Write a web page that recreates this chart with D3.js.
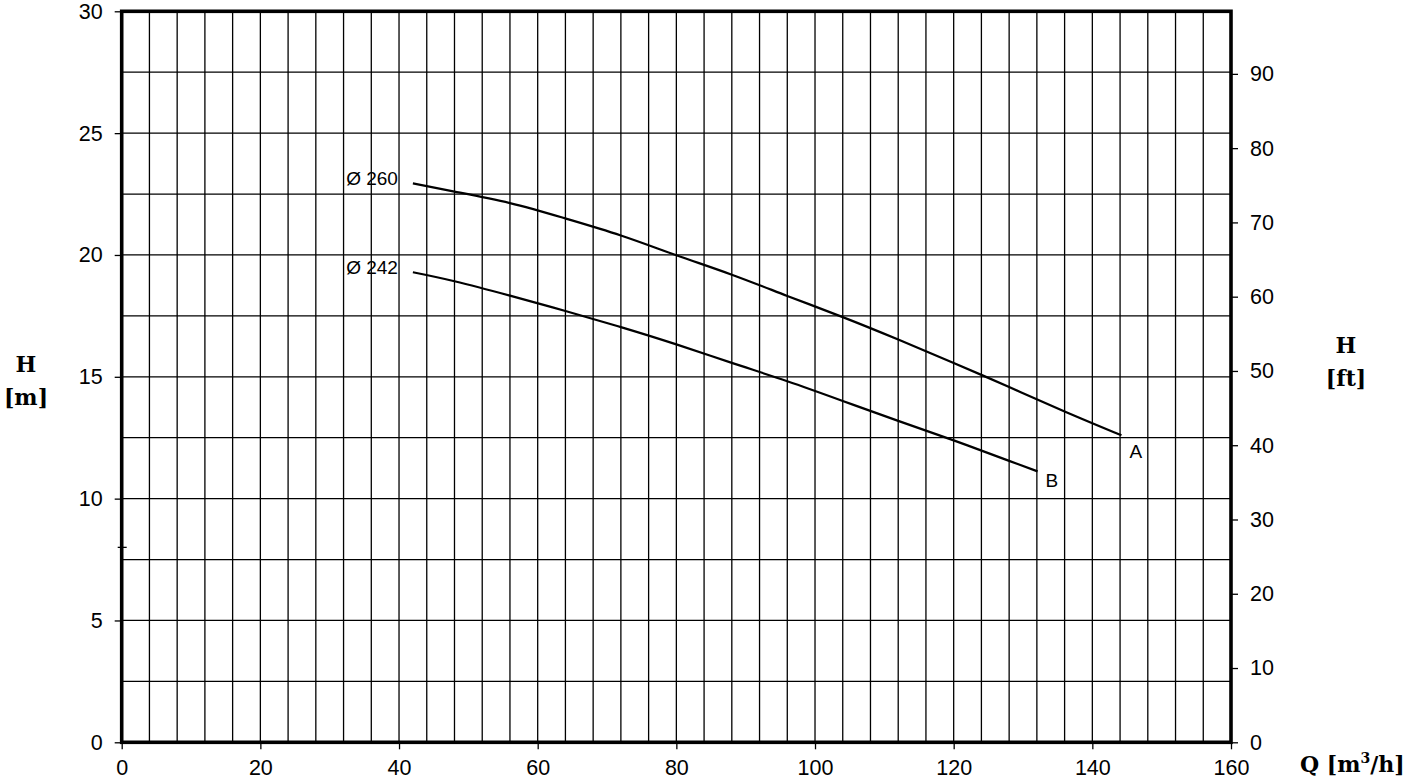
<!DOCTYPE html>
<html>
<head>
<meta charset="utf-8">
<script src="https://cdn.jsdelivr.net/npm/d3@7"></script>
<style>
  body { margin: 0; background: #fff; }
  svg { display: block; }
  .tick text { font-family: "Liberation Sans", Arial, sans-serif; }
</style>
</head>
<body>
<div id="chart"></div>
<script>
// pump curves, Q in m3/h, H in m
var qA = [42.0, 48, 56, 64, 72, 80, 88, 96, 104, 112, 120, 128, 136, 144.2];
var hA = [22.94, 22.6, 22.13, 21.5, 20.8, 19.99, 19.19, 18.32, 17.45, 16.53, 15.57, 14.58, 13.58, 12.6];
var qB = [42.0, 48, 56, 64, 72, 80, 88, 96, 104, 112, 120, 128, 132.1];
var hB = [19.29, 18.92, 18.33, 17.70, 17.04, 16.33, 15.57, 14.82, 14.01, 13.19, 12.39, 11.55, 11.12];
var curveNames = ["Ø 260", "Ø 242"];
var curveEnds = ["A", "B"];

var qTicks = [0, 20, 40, 60, 80, 100, 120, 140, 160];
var hTicks = [0, 5, 10, 15, 20, 25, 30];
var ftTicks = [0, 10, 20, 30, 40, 50, 60, 70, 80, 90];
var strayTicks = [8];
var M_TO_FT = 3.28084;

var W = 1421, H = 782;
var pLeft = 121.7, pRight = 1231, pTop = 11.3, pBottom = 742.3;

var svg = d3.select("#chart").append("svg")
    .attr("width", W).attr("height", H);

var x = d3.scaleLinear().domain([0, 160]).range([pLeft, pRight]);
var y = d3.scaleLinear().domain([0, 30]).range([pBottom, pTop]);
var yFt = d3.scaleLinear().domain([0, 30 * M_TO_FT]).range([pBottom, pTop]);

// grid: every 4 m3/h and every 2.5 m
var grid = svg.append("g").attr("stroke", "#000").attr("stroke-width", 1.3);
grid.selectAll(".gx").data(d3.range(4, 160, 4)).enter().append("line")
    .attr("x1", function(d) { return x(d); }).attr("x2", function(d) { return x(d); })
    .attr("y1", pTop).attr("y2", pBottom);
grid.selectAll(".gy").data(d3.range(2.5, 30, 2.5)).enter().append("line")
    .attr("x1", pLeft).attr("x2", pRight)
    .attr("y1", function(d) { return y(d); }).attr("y2", function(d) { return y(d); });

// axes
var fontSize = "21.5px";
var gLeft = svg.append("g").attr("transform", "translate(" + pLeft + ",0)")
    .call(d3.axisLeft(y).tickValues(hTicks).tickSize(7).tickPadding(12));
var gBottom = svg.append("g").attr("transform", "translate(0," + pBottom + ")")
    .call(d3.axisBottom(x).tickValues(qTicks).tickSize(7).tickPadding(10));
var gRight = svg.append("g").attr("transform", "translate(" + pRight + ",0)")
    .call(d3.axisRight(yFt).tickValues(ftTicks).tickSize(7).tickPadding(12));
[gLeft, gBottom, gRight].forEach(function(g) {
    g.select(".domain").remove();
    g.selectAll(".tick line").attr("stroke", "#000").attr("stroke-width", 1.3);
    g.selectAll(".tick text").attr("fill", "#000").style("font-size", fontSize);
});

// odd little tick on the left edge
svg.selectAll(".stray").data(strayTicks).enter().append("line")
    .attr("x1", pLeft - 4).attr("x2", pLeft + 5)
    .attr("y1", function(d) { return y(d); }).attr("y2", function(d) { return y(d); })
    .attr("stroke", "#000").attr("stroke-width", 1.3);

// frame
svg.append("rect")
    .attr("x", pLeft).attr("y", pTop)
    .attr("width", pRight - pLeft).attr("height", pBottom - pTop)
    .attr("fill", "none").attr("stroke", "#000").attr("stroke-width", 3.6);

// curves
var line = d3.line()
    .x(function(d) { return x(d[0]); })
    .y(function(d) { return y(d[1]); })
    .curve(d3.curveNatural);
var series = [d3.zip(qA, hA), d3.zip(qB, hB)];
var endDy = [16, 9];

series.forEach(function(pts, i) {
    svg.append("path").datum(pts)
        .attr("d", line)
        .attr("fill", "none").attr("stroke", "#000").attr("stroke-width", 2.2);
    var first = pts[0], last = pts[pts.length - 1];
    svg.append("text")
        .attr("x", x(first[0]) - 15).attr("y", y(first[1]) - 5)
        .attr("text-anchor", "end").attr("dominant-baseline", "central")
        .style("font-family", "Liberation Sans, Arial, sans-serif").style("font-size", "19px")
        .text(curveNames[i]);
    svg.append("text")
        .attr("x", x(last[0]) + 8).attr("y", y(last[1]) + endDy[i])
        .attr("dominant-baseline", "central")
        .style("font-family", "Liberation Sans, Arial, sans-serif").style("font-size", "19px")
        .text(curveEnds[i]);
});

// axis titles
function title(xPos, yPos, txt, anchor) {
    return svg.append("text")
        .attr("x", xPos).attr("y", yPos)
        .attr("text-anchor", anchor || "middle")
        .style("font-family", "DejaVu Serif, serif")
        .style("font-weight", "bold").style("font-size", "22px")
        .text(txt);
}
title(26, 372, "H");
title(26, 405, "[m]");
title(1346, 353, "H");
title(1346, 386, "[ft]");
var qt = title(1300, 772, "Q [m", "start");
qt.append("tspan").attr("dy", -9).style("font-size", "14px").text("3");
qt.append("tspan").attr("dy", 9).text("/h]");
</script>
</body>
</html>
